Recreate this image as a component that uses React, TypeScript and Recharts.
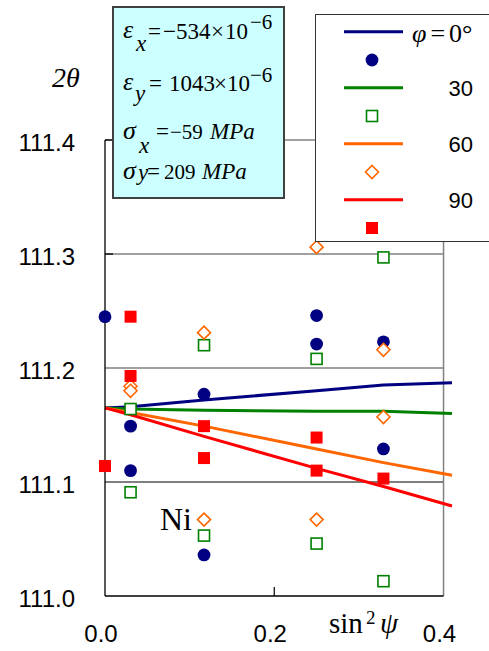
import { ComposedChart, Line, Scatter, XAxis, YAxis, ReferenceLine, Legend } from "recharts";

// sin^2(psi) positions of the measurements (psi = 0, 10, 20, 30, 35 deg)
const SIN2PSI_0 = [0, 0.0302, 0.0302, 0.117, 0.117, 0.25, 0.25, 0.329, 0.329];
const SIN2PSI_30 = [0.0302, 0.0302, 0.117, 0.117, 0.25, 0.25, 0.329, 0.329];
const SIN2PSI_60 = [0.0302, 0.0302, 0.117, 0.117, 0.25, 0.25, 0.329, 0.329];
const SIN2PSI_90 = [0, 0.0302, 0.0302, 0.117, 0.117, 0.25, 0.25, 0.329];

// measured 2theta peaks (deg)
const PEAK_0 = [111.245, 111.149, 111.11, 111.177, 111.036, 111.246, 111.221, 111.223, 111.129];
const PEAK_30 = [111.164, 111.091, 111.22, 111.053, 111.208, 111.046, 111.297, 111.013];
const PEAK_60 = [111.184, 111.18, 111.231, 111.067, 111.306, 111.067, 111.216, 111.157];
const PEAK_90 = [111.114, 111.245, 111.193, 111.149, 111.121, 111.139, 111.11, 111.103];

// calculated 2theta curves
const FIT_X = [0, 0.0302, 0.117, 0.25, 0.329, 0.41];
const FIT_0 = [111.165, 111.166, 111.172, 111.18, 111.185, 111.187];
const FIT_30 = [111.165, 111.164, 111.163, 111.162, 111.162, 111.16];
const FIT_60 = [111.165, 111.161, 111.149, 111.129, 111.117, 111.106];
const FIT_90 = [111.165, 111.159, 111.14, 111.112, 111.096, 111.079];

const X_TICKS = [0, 0.2, 0.4];
const Y_TICKS = [111.0, 111.1, 111.2, 111.3, 111.4];
const PHI_LABELS = ["0", "30", "60", "90"];

const NAVY = "#000080";
const GREEN = "#008000";
const ORANGE = "#ff6600";
const RED = "#ff0000";
const GRID = "#808080";
const SANS = "'Liberation Sans', Arial, sans-serif";
const SERIF = "'Liberation Serif', 'Times New Roman', serif";

const pts = (xs: number[], ys: number[]) => xs.map((x, i) => ({ x, y: ys[i] }));

const Dot = ({ cx, cy }: any) => <circle cx={cx} cy={cy} r={6.4} fill={NAVY} />;
const OpenSquare = ({ cx, cy }: any) => (
  <rect x={cx - 5.5} y={cy - 5.5} width={11} height={11} fill="#fff" stroke={GREEN} strokeWidth={1.6} />
);
const OpenDiamond = ({ cx, cy }: any) => (
  <path
    d={`M${cx},${cy - 6.5}L${cx + 6.5},${cy}L${cx},${cy + 6.5}L${cx - 6.5},${cy}Z`}
    fill="#fff"
    stroke={ORANGE}
    strokeWidth={1.6}
  />
);
const FilledSquare = ({ cx, cy }: any) => <rect x={cx - 6} y={cy - 6} width={12} height={12} fill={RED} />;

const SERIES = [
  { color: NAVY, Marker: Dot },
  { color: GREEN, Marker: OpenSquare },
  { color: ORANGE, Marker: OpenDiamond },
  { color: RED, Marker: FilledSquare },
];

function LegendBox() {
  return (
    <div style={{ width: 180, height: 228, boxSizing: "border-box", border: "1.5px solid #333", background: "#fff" }}>
      <svg width={180} height={228} style={{ position: "absolute", left: 0, top: 0 }}>
        {SERIES.map((s, i) => {
          const ly = 17.7 + i * 56;
          return (
            <g key={i}>
              <line x1={29} x2={88} y1={ly} y2={ly} stroke={s.color} strokeWidth={3} />
              <s.Marker cx={57} cy={ly + 28.3} />
              {i === 0 ? (
                <text x={97} y={28} fontFamily={SERIF} fontSize={26} fill="#000">
                  <tspan fontStyle="italic">φ</tspan>
                  <tspan dx={4}>=</tspan>
                  <tspan dx={4}>{PHI_LABELS[0]}°</tspan>
                </text>
              ) : (
                <text x={158} y={ly + 8} textAnchor="end" fontFamily={SANS} fontSize={22} fill="#000">
                  {PHI_LABELS[i]}
                </text>
              )}
            </g>
          );
        })}
      </svg>
    </div>
  );
}

function Overlay() {
  const it = { fontStyle: "italic" as const };
  return (
    <svg width={489} height={651} style={{ position: "absolute", left: 0, top: 0, pointerEvents: "none" }}>
      <rect x={113} y={7} width={171} height={191} fill="#ccffff" stroke="#404040" strokeWidth={2} />
      <g fontFamily={SERIF} fontSize={23} fill="#000">
        <text x={123} y={38} fontSize={26} {...it}>ε</text>
        <text x={136} y={51} {...it}>x</text>
        <text x={148} y={39}>=</text>
        <text x={163} y={39}>−534</text>
        <text x={211} y={39}>×</text>
        <text x={225} y={39}>10</text>
        <text x={250} y={29} fontSize={21}>−6</text>

        <text x={123} y={90} fontSize={26} {...it}>ε</text>
        <text x={135} y={101} {...it}>y</text>
        <text x={149} y={91}>=</text>
        <text x={169} y={91}>1043</text>
        <text x={214} y={91}>×</text>
        <text x={227} y={91}>10</text>
        <text x={250} y={82} fontSize={21}>−6</text>

        <text x={123} y={139} fontSize={26} {...it}>σ</text>
        <text x={139} y={153} {...it}>x</text>
        <text x={156} y={139}>=</text>
        <text x={170} y={139} fontSize={21}>−59</text>
        <text x={210} y={139} {...it}>MPa</text>

        <text x={123} y={179} fontSize={26} {...it}>σ</text>
        <text x={138} y={180} {...it}>y</text>
        <text x={147} y={179}>=</text>
        <text x={164} y={179} fontSize={21}>209</text>
        <text x={202} y={179} {...it}>MPa</text>
      </g>
      <text x={52} y={87} fontFamily={SERIF} fontSize={28} fontStyle="italic" fill="#000">2θ</text>
      <text x={160} y={530} fontFamily={SERIF} fontSize={32} fill="#000">Ni</text>
      <g fontFamily={SERIF} fill="#000">
        <text x={329} y={633} fontSize={29}>sin</text>
        <text x={366} y={624} fontSize={19}>2</text>
        <text x={380} y={633} fontSize={29} fontStyle="italic">ψ</text>
      </g>
    </svg>
  );
}

export default function App() {
  const fits = [FIT_0, FIT_30, FIT_60, FIT_90];
  const scatters = [
    pts(SIN2PSI_0, PEAK_0),
    pts(SIN2PSI_30, PEAK_30),
    pts(SIN2PSI_60, PEAK_60),
    pts(SIN2PSI_90, PEAK_90),
  ];
  const hseg = (y: number) => [{ x: 0, y }, { x: 0.4, y }];

  return (
    <div style={{ position: "absolute", left: 0, top: 0, width: 489, height: 651, overflow: "hidden", background: "#fff" }}>
      <ComposedChart width={489} height={651} margin={{ top: 140, right: 37, bottom: 0, left: 0 }}>
        <XAxis
          type="number"
          dataKey="x"
          domain={[0, 0.41]}
          ticks={X_TICKS}
          axisLine={false}
          tickLine={false}
          tickMargin={23}
          height={55}
          tick={{ fontSize: 24, fill: "#000", fontFamily: SANS, dx: -4 }}
          tickFormatter={(v: number) => v.toFixed(1)}
        />
        <YAxis
          type="number"
          dataKey="y"
          domain={[111.0, 111.4]}
          ticks={Y_TICKS}
          width={105}
          axisLine={{ stroke: "#000", strokeWidth: 1.3 }}
          tickLine={false}
          tickMargin={24}
          tick={{ fontSize: 24, fill: "#000", fontFamily: SANS, dy: 2 }}
          tickFormatter={(v: number) => v.toFixed(1)}
        />
        {/* frame and gridlines stop at sin^2 psi = 0.4 */}
        <ReferenceLine segment={hseg(111.4)} stroke={GRID} strokeWidth={1.3} />
        <ReferenceLine segment={hseg(111.3)} stroke={GRID} strokeWidth={1.3} />
        <ReferenceLine segment={hseg(111.2)} stroke={GRID} strokeWidth={1.3} />
        <ReferenceLine segment={hseg(111.1)} stroke="#000" strokeWidth={1.2} />
        <ReferenceLine segment={[{ x: 0.4, y: 111.0 }, { x: 0.4, y: 111.4 }]} stroke={GRID} strokeWidth={1.5} />
        <ReferenceLine segment={hseg(111.0)} stroke="#000" strokeWidth={1.3} />
        <ReferenceLine segment={[{ x: 0.2, y: 111.0 }, { x: 0.2, y: 111.008 }]} stroke="#000" strokeWidth={1.2} />
        <ReferenceLine segment={[{ x: 0, y: 111.3 }, { x: 0.0095, y: 111.3 }]} stroke="#000" strokeWidth={1.3} />
        <ReferenceLine segment={[{ x: 0, y: 111.4 }, { x: 0.0095, y: 111.4 }]} stroke="#000" strokeWidth={1.3} />

        {SERIES.map((s, i) => [
          <Line
            key={`fit${i}`}
            data={pts(FIT_X, fits[i])}
            dataKey="y"
            type="linear"
            stroke={s.color}
            strokeWidth={3}
            dot={false}
            activeDot={false}
            isAnimationActive={false}
          />,
          <Scatter
            key={`pk${i}`}
            data={scatters[i]}
            dataKey="y"
            shape={s.Marker}
            isAnimationActive={false}
          />,
        ])}
        <Legend
          layout="vertical"
          align="center"
          verticalAlign="middle"
          wrapperStyle={{ left: 315, top: 14, width: 180, height: 228 }}
          content={() => <LegendBox />}
        />
      </ComposedChart>
      <Overlay />
    </div>
  );
}
